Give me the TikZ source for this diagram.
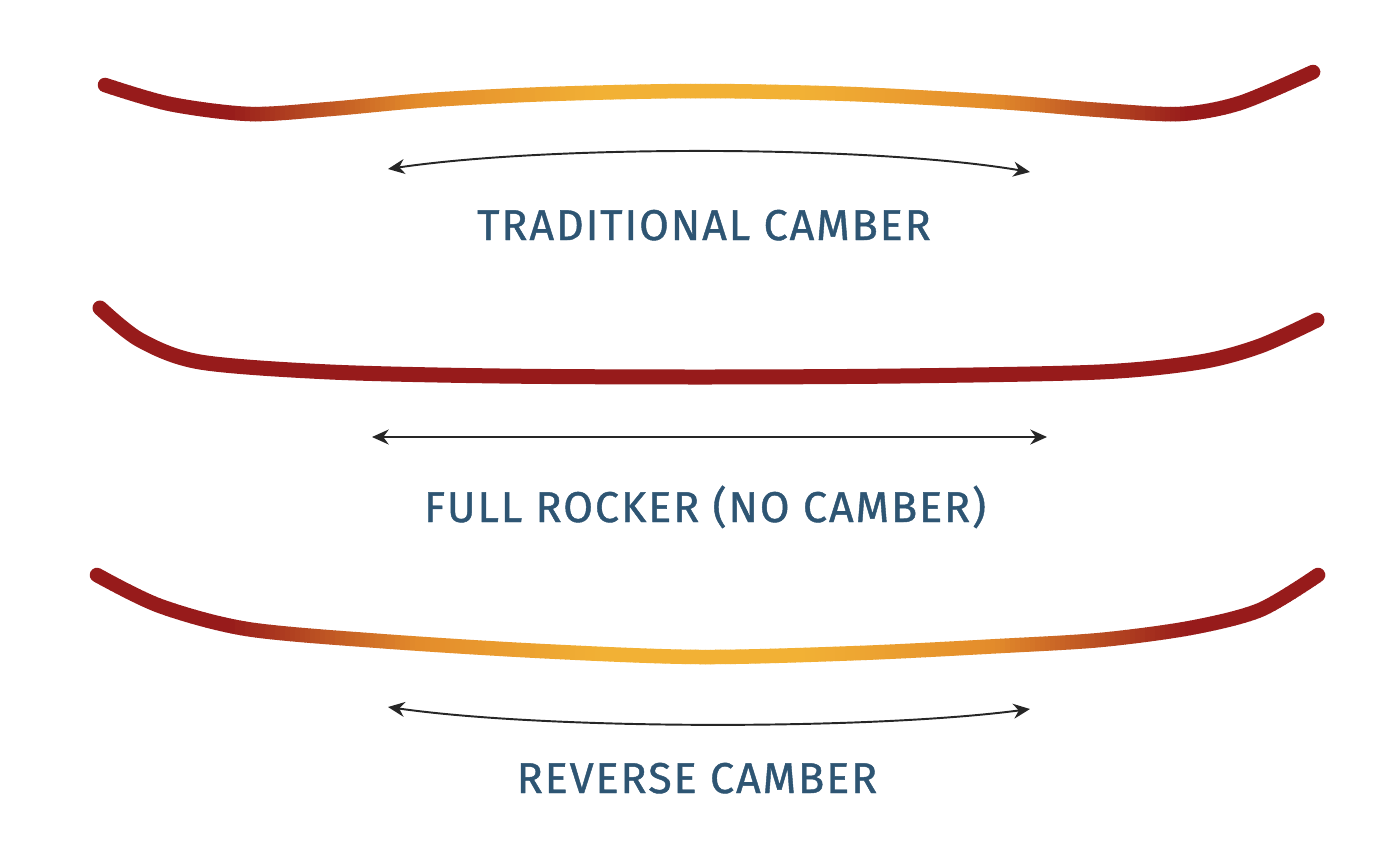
\documentclass[tikz,border=0pt]{standalone}
\usepackage{fontspec}
\setsansfont{Fira Sans}[LetterSpace=4.5,FakeBold=1]
\usetikzlibrary{arrows.meta}
\definecolor{bdark}{HTML}{971B1B}
\definecolor{borange}{HTML}{E38B2B}
\definecolor{byellow}{HTML}{F2B135}
\definecolor{ltext}{HTML}{2E5573}
% centre lines of the boards (pixel units)
\newcommand\tradcurve{plot[smooth] coordinates {(105,85) (170,104) (250,114) (330,109) (430,100) (550,94) (700,91) (850,94) (1000,102) (1100,110) (1180,114) (1240,103) (1313,72)}}
\newcommand\rockcurve{plot[smooth] coordinates {(100,308) (140,340) (200,362) (330,372) (500,376) (700,377) (900,376) (1100,372) (1200,362) (1260,346) (1317,320)}}
\newcommand\revcurve{plot[smooth] coordinates {(97,575) (160,606) (247,629) (380,641) (540,651) (700,657) (860,653) (1000,646) (1100,640) (1190,628) (1260,610) (1318,575)}}
\begin{document}
\begin{tikzpicture}[x=0.02cm,y=-0.02cm,
  board/.style={line width=0.29cm,line cap=round},
  lbl/.style={text=ltext,font=\sffamily\fontsize{24.5}{24.5}\selectfont,anchor=base,inner sep=0pt},
  dim/.style={line width=1.1pt,black!85,{Stealth[length=9.5pt,width=8.5pt]}-{Stealth[length=9.5pt,width=8.5pt]}}]
\useasboundingbox[fill=white] (0,0) rectangle (1400,842);
% warm boards: dark ends, orange, yellow middle, in thin strips
\foreach \bd/\yt in {\tradcurve/40,\revcurve/560}{
  \foreach \i in {0,...,279}{
    \pgfmathsetmacro\xa{5*\i}
    \pgfmathsetmacro\w{100*max(0,min(1,\xa<700 ? (\xa-225)/375 : (1185-\xa)/385))}
    \pgfmathtruncatemacro\wa{min(100,2*\w)}
    \pgfmathtruncatemacro\wb{max(0,2*\w-100)}
    \colorlet{segc}{byellow!\wb!borange}
    \colorlet{segc}{segc!\wa!bdark}
    \begin{scope}
      \clip (\xa,\yt) rectangle ++(5.6,120);
      \draw[board,segc] \bd;
    \end{scope}
  }
}
% traditional camber
\coordinate (tl) at (388,169); \coordinate (tr) at (1030,172);
\draw[dim] (tl) .. controls (550,145) and (870,145) .. (tr);
\node[lbl] (tradlbl) at (704,240) {TRADITIONAL CAMBER};
% full rocker
\draw[board,bdark,line width=0.3cm] \rockcurve;
\coordinate (fl) at (372,437); \coordinate (fr) at (1047,437);
\draw[dim] (fl) -- (fr);
\node[lbl] (rockerlbl) at (705,522) {FULL ROCKER (NO CAMBER)};
% reverse camber
\coordinate (rl) at (388,707); \coordinate (rr) at (1030,709);
\draw[dim] (rl) .. controls (550,730) and (870,730) .. (rr);
\node[lbl] (revlbl) at (697,793) {REVERSE CAMBER};
\end{tikzpicture}
\end{document}
